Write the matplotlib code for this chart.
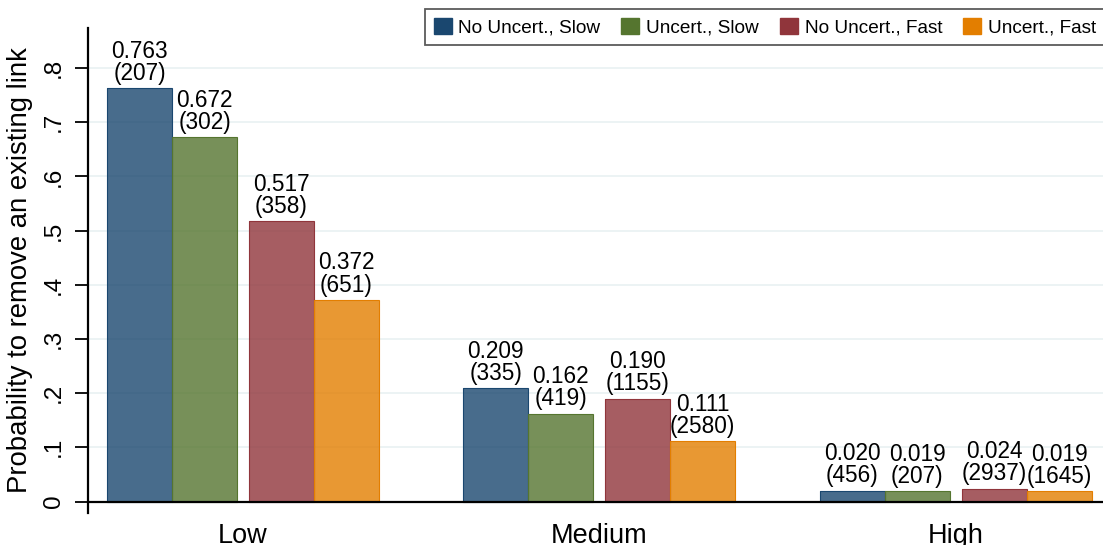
import matplotlib
matplotlib.use("Agg")
import matplotlib.pyplot as plt
from matplotlib.patches import Patch
import numpy as np

plt.rcParams['font.family'] = ['Liberation Sans', 'DejaVu Sans']

groups = ["Low", "Medium", "High"]
series = ["No Uncert., Slow", "Uncert., Slow", "No Uncert., Fast", "Uncert., Fast"]
prob = {
    "No Uncert., Slow": [0.763, 0.209, 0.020],
    "Uncert., Slow":    [0.672, 0.162, 0.019],
    "No Uncert., Fast": [0.517, 0.190, 0.024],
    "Uncert., Fast":    [0.372, 0.111, 0.019],
}
counts = {
    "No Uncert., Slow": [207, 335, 456],
    "Uncert., Slow":    [302, 419, 207],
    "No Uncert., Fast": [358, 1155, 2937],
    "Uncert., Fast":    [651, 2580, 1645],
}
yticks = [0, 0.1, 0.2, 0.3, 0.4, 0.5, 0.6, 0.7, 0.8]
ytick_labels = ["0", ".1", ".2", ".3", ".4", ".5", ".6", ".7", ".8"]
ylabel = "Probability to remove an existing link"

colors = ["#1a476f", "#55752f", "#90353b", "#e37e00"]

W, H = 1103, 545
fig = plt.figure(figsize=(W / 100, H / 100), dpi=100)
ax = fig.add_axes([88 / W, (H - 513) / H, 1 - 88 / W, 485 / H])

w = 1.0
gap = 12 / 65
spacing = 356.25 / 65
centers = np.arange(len(groups)) * spacing

for j, s in enumerate(series):
    off = (j - 1.5) * w + (gap / 2 if j >= 2 else -gap / 2)
    xs = centers + off
    ax.bar(xs, prob[s], width=w, color=colors[j], alpha=0.8, edgecolor="none", zorder=3)
    ax.bar(xs, prob[s], width=w, facecolor="none", edgecolor=colors[j], linewidth=0.8, zorder=4)
    for x, v, n in zip(xs, prob[s], counts[s]):
        ax.annotate(f"{v:.3f}\n({n})", xy=(x, v), xytext=(0, 2.5), textcoords="offset points",
                    ha="center", va="bottom", fontsize=16.3, linespacing=0.95, zorder=5)

ax.set_xlim(-155 / 65, 860 / 65)
ax.set_ylim(-0.0212, 0.874)

ax.set_yticks(yticks)
ax.set_yticklabels(ytick_labels, rotation=90, va="center", fontsize=17.5)
ax.tick_params(axis="y", length=9.5, width=1.3, pad=7, color="black")
ax.set_xticks(centers)
ax.set_xticklabels(groups, fontsize=19.5)
ax.tick_params(axis="x", length=0, pad=7)

for t in yticks[1:]:
    ax.axhline(t, color="#eaf2f3", linewidth=1.3, zorder=1)
ax.axhline(0, color="black", linewidth=1.6, zorder=6)

for sp in ["top", "right", "bottom"]:
    ax.spines[sp].set_visible(False)
ax.spines["left"].set_linewidth(1.6)

ax.set_ylabel(ylabel, fontsize=19.8, labelpad=7)

handles = [Patch(facecolor=c, edgecolor=c) for c in colors]
leg = fig.legend(handles, series, loc="upper left", bbox_to_anchor=(425 / W, 1 - 9 / H),
                 ncol=4, fontsize=13.7, frameon=True, fancybox=False, shadow=False,
                 handlelength=0.95, handleheight=0.95, handletextpad=0.35, columnspacing=1.1,
                 borderpad=0.45, borderaxespad=0)
leg.get_frame().set_edgecolor("#333333")
leg.get_frame().set_linewidth(1.3)

fig.savefig("out.png", dpi=100)
